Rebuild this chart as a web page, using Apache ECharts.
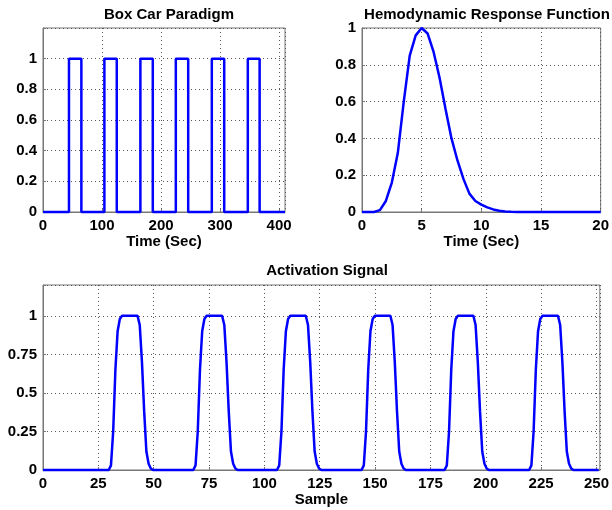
<!DOCTYPE html>
<html>
<head>
<meta charset="utf-8">
<script src="https://cdn.jsdelivr.net/npm/echarts@6/dist/echarts.min.js"></script>
<style>
  html, body { margin: 0; padding: 0; background: #fff; }
  #chart { width: 612px; height: 510px; }
</style>
</head>
<body>
<div id="chart"></div>
<script>
// Box car paradigm: stimulus on/off times (sec)
const boxOn  = [44, 104, 165, 225, 286, 347];
const boxOff = [65, 125, 186, 246, 307, 367];
const boxEnd = 410;

// Hemodynamic response function, read at 0.5 s steps
const hrfTime = [0, 0.5, 1, 1.5, 2, 2.5, 3, 3.5, 4, 4.5, 5, 5.5, 6, 6.5, 7, 7.5, 8, 8.5, 9, 9.5,
  10, 10.5, 11, 11.5, 12, 12.5, 13, 14, 15, 16, 17, 18, 19, 20];
const hrfValue = [0, 0, 0, 0.01, 0.06, 0.16, 0.32, 0.6, 0.85, 0.96, 1, 0.97, 0.87, 0.73, 0.56, 0.4,
  0.28, 0.18, 0.1, 0.06, 0.04, 0.025, 0.014, 0.007, 0.003, 0.001, 0, 0, 0, 0, 0, 0, 0, 0];

// Activation signal: pulse onsets (sample) and one pulse's shape
const actOnsets = [29.7, 67.9, 105.7, 143.9, 181.4, 219.6];
const pulseOffsets = [0, 1, 2, 3, 4, 5, 6, 13, 14, 15, 16, 17, 18, 19, 20];
const pulseValues  = [0, 0.03, 0.25, 0.65, 0.9, 0.98, 1, 1, 0.94, 0.7, 0.38, 0.12, 0.04, 0.01, 0];
const actEnd = 251;

const FONT = 'Liberation Sans, Arial, Helvetica, sans-serif';
const BLUE = '#0000ff';

const boxData = [[0, 0]];
boxOn.forEach((on, i) => {
  boxData.push([on, 0], [on, 1], [boxOff[i], 1], [boxOff[i], 0]);
});
boxData.push([boxEnd, 0]);

const hrfData = hrfTime.map((t, i) => [t, hrfValue[i]]);

const actData = [[0, 0]];
actOnsets.forEach(o => {
  pulseOffsets.forEach((d, j) => actData.push([o + d, pulseValues[j]]));
});
actData.push([actEnd, 0]);

const label = { color: '#000', fontFamily: FONT, fontWeight: 'bold', fontSize: 15 };
const split = { show: true, lineStyle: { color: '#555', type: [1, 3], width: 1 } };
const axLine = { show: true, lineStyle: { color: '#777' } };
const tick = { show: true, inside: true, length: 3, lineStyle: { color: '#777' } };

function xAxis(idx, max, interval, name) {
  return {
    type: 'value', gridIndex: idx, min: 0, max: max, interval: interval,
    name: name, nameLocation: 'middle', nameGap: 21,
    nameTextStyle: label,
    axisLine: axLine, axisTick: tick, splitLine: split,
    axisLabel: Object.assign({}, label, {
      margin: 6, showMaxLabel: max % interval === 0,
      formatter: v => (Math.abs(v / interval - Math.round(v / interval)) < 1e-6 ? String(v) : '')
    })
  };
}
function yAxis(idx, max, interval) {
  return {
    type: 'value', gridIndex: idx, min: 0, max: max, interval: interval,
    axisLine: axLine, axisTick: tick, splitLine: split,
    axisLabel: Object.assign({}, label, {
      margin: 6,
      formatter: v => (v > 1.0001 ? '' : String(+v.toFixed(2)))
    })
  };
}

const chart = echarts.init(document.getElementById('chart'), null, { renderer: 'canvas' });
chart.setOption({
  animation: false,
  backgroundColor: '#fff',
  title: [
    { text: 'Box Car Paradigm', left: 164, top: 2, textAlign: 'center', textStyle: label },
    { text: 'Hemodynamic Response Function', left: 482, top: 2, textAlign: 'center', textStyle: label },
    { text: 'Activation Signal', left: 322, top: 258, textAlign: 'center', textStyle: label }
  ],
  grid: [
    { left: 43, top: 28, width: 242, height: 184, show: true, borderColor: '#777', borderWidth: 1 },
    { left: 362, top: 28, width: 240, height: 184, show: true, borderColor: '#777', borderWidth: 1 },
    { left: 43, top: 285, width: 559, height: 185, show: true, borderColor: '#777', borderWidth: 1 }
  ],
  xAxis: [
    xAxis(0, boxEnd, 100, 'Time (Sec)'),
    xAxis(1, 20, 5, 'Time (Sec)'),
    xAxis(2, 251.5, 25, 'Sample')
  ],
  yAxis: [
    yAxis(0, 1.2, 0.2),
    yAxis(1, 1, 0.2),
    yAxis(2, 1.2, 0.25)
  ],
  series: [
    { type: 'line', xAxisIndex: 0, yAxisIndex: 0, data: boxData, showSymbol: false, clip: false,
      lineStyle: { color: BLUE, width: 2.5 } },
    { type: 'line', xAxisIndex: 1, yAxisIndex: 1, data: hrfData, showSymbol: false, clip: false,
      lineStyle: { color: BLUE, width: 2.5 } },
    { type: 'line', xAxisIndex: 2, yAxisIndex: 2, data: actData, showSymbol: false, clip: false,
      lineStyle: { color: BLUE, width: 2.5 } }
  ]
});
</script>
</body>
</html>
